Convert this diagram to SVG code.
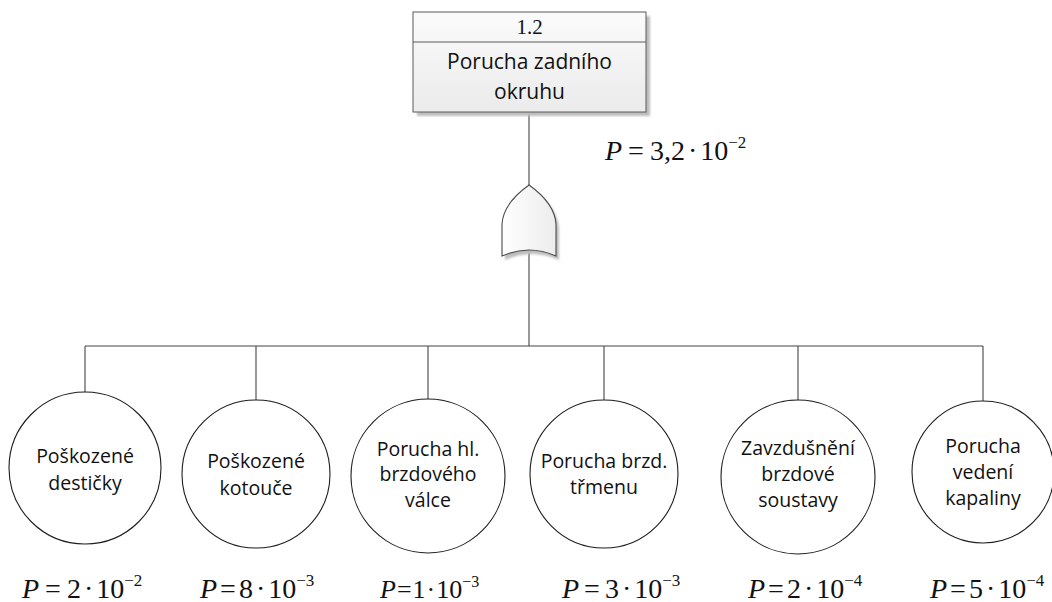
<svg xmlns="http://www.w3.org/2000/svg" width="1052" height="602" viewBox="0 0 1052 602">
<defs>
<linearGradient id="boxFill" x1="0" y1="0" x2="0" y2="1">
<stop offset="0" stop-color="#fbfbfb"/>
<stop offset="1" stop-color="#ebebeb"/>
</linearGradient>
<linearGradient id="gateFill" x1="0" y1="0" x2="1" y2="0">
<stop offset="0" stop-color="#ffffff"/>
<stop offset="1" stop-color="#ececec"/>
</linearGradient>
<filter id="soft" x="-10%" y="-10%" width="130%" height="130%">
<feGaussianBlur stdDeviation="1.2"/>
</filter>
</defs>
<style>
.wire{stroke:#444;stroke-width:1.1;fill:none}
.leaf{fill:#ffffff;stroke:#1e1e1e;stroke-width:1.1}
.lbl{font-family:"Open Sans","Noto Sans",sans-serif;font-size:19.5px;fill:#111;text-anchor:middle}
.top{font-family:"Open Sans","Noto Sans",sans-serif;font-size:21px;fill:#111;text-anchor:middle}
.num{font-family:"Liberation Serif",serif;font-size:21px;fill:#111;text-anchor:middle}
.p{font-family:"Liberation Serif",serif;font-size:28px;fill:#111}
.it{font-style:italic}
.sup{font-size:17px}
.shadow{fill:#bdbdbd;filter:url(#soft)}
</style>

<g id="connectors">
<line class="wire" x1="529" y1="112" x2="529" y2="185"/>
<line class="wire" x1="529" y1="250" x2="529" y2="346"/>
<line class="wire" x1="85" y1="346" x2="983" y2="346"/>
<line class="wire" x1="85" y1="346" x2="85" y2="392"/>
<line class="wire" x1="256" y1="346" x2="256" y2="400"/>
<line class="wire" x1="428" y1="346" x2="428" y2="399"/>
<line class="wire" x1="604" y1="346" x2="604" y2="400"/>
<line class="wire" x1="798" y1="346" x2="798" y2="400"/>
<line class="wire" x1="983" y1="346" x2="983" y2="401"/>
</g>

<g id="top-event">
<rect class="shadow" x="417" y="16" width="233" height="100"/>
<rect x="413" y="12" width="233" height="100" fill="url(#boxFill)" stroke="#5a5a5a" stroke-width="1"/>
<line x1="413" y1="42" x2="646" y2="42" stroke="#5a5a5a" stroke-width="1"/>
<text class="num" x="529.5" y="34">1.2</text>
<text class="top" x="529.5" y="69">Porucha zadního</text>
<text class="top" x="529.5" y="99">okruhu</text>
<text class="p" x="605" y="160"><tspan class="it">P</tspan><tspan dx="6">=</tspan><tspan dx="6">3,2</tspan><tspan dx="3">·</tspan><tspan dx="3">10</tspan><tspan class="sup" dy="-12">−2</tspan></text>
</g>

<g id="gate-or">
<path class="shadow" d="M532,189 C518,199 506,212 505,228 L505,260 Q532,248 559,260 L559,228 C558,212 546,199 532,189 Z"/>
<path d="M529,185 C515,195 503,208 502,224 L502,256 Q529,244 556,256 L556,224 C555,208 543,195 529,185 Z" fill="url(#gateFill)" stroke="#4a4a4a" stroke-width="1.1"/>
</g>

<g id="leaf-1">
<circle class="leaf" cx="85" cy="468" r="76"/>
<text class="lbl" x="85" y="463">Poškozené</text>
<text class="lbl" x="85" y="490">destičky</text>
<text class="p" x="22" y="598"><tspan class="it">P</tspan><tspan dx="6">=</tspan><tspan dx="6">2</tspan><tspan dx="3">·</tspan><tspan dx="3">10</tspan><tspan class="sup" dy="-12">−2</tspan></text>
</g>

<g id="leaf-2">
<circle class="leaf" cx="256" cy="474" r="74"/>
<text class="lbl" x="256" y="468">Poškozené</text>
<text class="lbl" x="256" y="495">kotouče</text>
<text class="p" x="200" y="598"><tspan class="it">P</tspan><tspan dx="3">=</tspan><tspan dx="3">8</tspan><tspan dx="3">·</tspan><tspan dx="3">10</tspan><tspan class="sup" dy="-12">−3</tspan></text>
</g>

<g id="leaf-3">
<circle class="leaf" cx="428" cy="476" r="77"/>
<text class="lbl" x="428" y="456">Porucha hl.</text>
<text class="lbl" x="428" y="481">brzdového</text>
<text class="lbl" x="428" y="507">válce</text>
<text class="p" x="380" y="598" style="font-size:26px"><tspan class="it">P</tspan><tspan dx="1">=</tspan><tspan dx="1">1</tspan><tspan dx="1">·</tspan><tspan dx="1">10</tspan><tspan class="sup" dy="-11" style="font-size:16px">−3</tspan></text>
</g>

<g id="leaf-4">
<circle class="leaf" cx="604" cy="474" r="74"/>
<text class="lbl" x="604" y="468">Porucha brzd.</text>
<text class="lbl" x="604" y="494">třmenu</text>
<text class="p" x="562" y="598"><tspan class="it">P</tspan><tspan dx="5">=</tspan><tspan dx="5">3</tspan><tspan dx="3">·</tspan><tspan dx="3">10</tspan><tspan class="sup" dy="-12">−3</tspan></text>
</g>

<g id="leaf-5">
<circle class="leaf" cx="798" cy="477" r="77"/>
<text class="lbl" x="798" y="455">Zavzdušnění</text>
<text class="lbl" x="798" y="481">brzdové</text>
<text class="lbl" x="798" y="507">soustavy</text>
<text class="p" x="748" y="598"><tspan class="it">P</tspan><tspan dx="3">=</tspan><tspan dx="3">2</tspan><tspan dx="3">·</tspan><tspan dx="3">10</tspan><tspan class="sup" dy="-12">−4</tspan></text>
</g>

<g id="leaf-6">
<circle class="leaf" cx="983" cy="472" r="71"/>
<text class="lbl" x="983" y="453">Porucha</text>
<text class="lbl" x="983" y="479">vedení</text>
<text class="lbl" x="983" y="505">kapaliny</text>
<text class="p" x="930" y="598"><tspan class="it">P</tspan><tspan dx="3">=</tspan><tspan dx="3">5</tspan><tspan dx="3">·</tspan><tspan dx="3">10</tspan><tspan class="sup" dy="-12">−4</tspan></text>
</g>
</svg>
